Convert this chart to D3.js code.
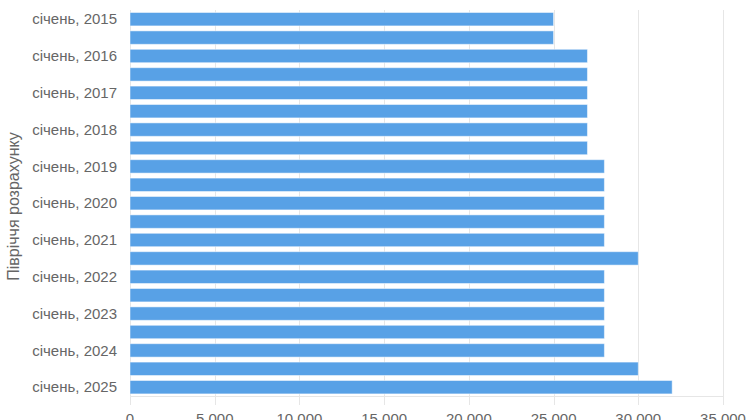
<!DOCTYPE html>
<html><head><meta charset="utf-8">
<script src="https://cdn.jsdelivr.net/npm/d3@7"></script>
<style>
html,body{margin:0;padding:0;background:#fff;overflow:hidden}
svg{display:block;font-family:"Liberation Sans",Arial,sans-serif}
</style></head>
<body><svg id="c" width="750" height="420"></svg>
<script>
const categories = [
 "січень, 2015","липень, 2015","січень, 2016","липень, 2016","січень, 2017","липень, 2017",
 "січень, 2018","липень, 2018","січень, 2019","липень, 2019","січень, 2020","липень, 2020",
 "січень, 2021","липень, 2021","січень, 2022","липень, 2022","січень, 2023","липень, 2023",
 "січень, 2024","липень, 2024","січень, 2025"];
const values = [25000,25000,27000,27000,27000,27000,27000,27000,28000,28000,28000,28000,
 28000,30000,28000,28000,28000,28000,28000,30000,32000];
const xTicks = [0,5000,10000,15000,20000,25000,30000,35000];
const yTitle = "Півріччя розрахунку";

const svg = d3.select("#c");
const m = {left:130, top:10};
const x = d3.scaleLinear().domain([0,35000]).range([m.left, 723]);
const y = d3.scaleBand().domain(categories).range([m.top, 396.4]).paddingInner(0.27).paddingOuter(0.135);
const loc = d3.formatLocale({decimal:",", thousands:"\u00a0", grouping:[3], currency:["",""]});
const fmt = loc.format(",d");

// gridlines + ticks
svg.append("g").selectAll("line").data(xTicks).join("line")
  .attr("x1",d=>Math.round(x(d))+0.5).attr("x2",d=>Math.round(x(d))+0.5)
  .attr("y1",m.top).attr("y2",405).attr("stroke","#e6e6e6").attr("stroke-width",1);
svg.append("line").attr("x1",m.left).attr("x2",x(35000)).attr("y1",396.5).attr("y2",396.5)
  .attr("stroke","#e6e6e6");

// bars
svg.append("g").selectAll("rect").data(values).join("rect")
  .attr("x",x(0)).attr("y",(d,i)=>y(categories[i]))
  .attr("width",d=>x(d)-x(0)).attr("height",y.bandwidth())
  .attr("fill","#58a1e6").attr("stroke","#ffffff").attr("stroke-opacity",0.5).attr("stroke-width",1);

// category labels (every other shown)
svg.append("g").selectAll("text").data(categories.filter((d,i)=>i%2===0)).join("text")
  .attr("x",117).attr("y",d=>y(d)+y.bandwidth()/2).attr("dy","0.35em")
  .attr("text-anchor","end").attr("fill","#666").attr("font-size",15).text(d=>d);

// x labels
svg.append("g").selectAll("text").data(xTicks).join("text")
  .attr("x",d=>x(d)).attr("y",424).attr("text-anchor","middle")
  .attr("fill","#666").attr("font-size",15).text(d=>fmt(d));

// y title
svg.append("text").attr("transform","translate(18.5,206.5) rotate(-90)")
  .attr("text-anchor","middle").attr("fill","#666").attr("font-size",16).text(yTitle);
</script></body></html>
